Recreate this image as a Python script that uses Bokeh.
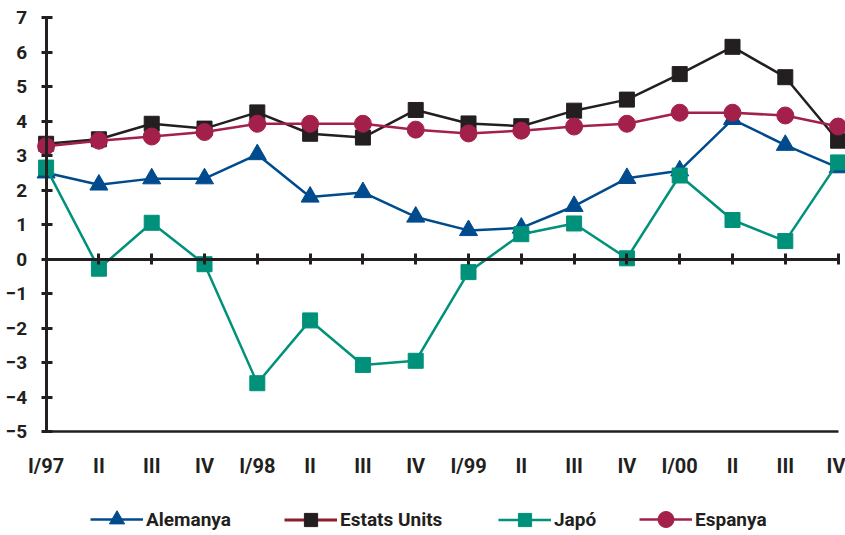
from bokeh.plotting import figure
from bokeh.models import Range1d, LinearAxis, FixedTicker, Legend, LegendItem
from bokeh.embed import file_html
from bokeh.resources import INLINE

# ---------------- data ----------------
quarters = ["I/97", "II", "III", "IV", "I/98", "II", "III", "IV",
            "I/99", "II", "III", "IV", "I/00", "II", "III", "IV"]
alemanya = [2.5, 2.15, 2.33, 2.33, 3.03, 1.8, 1.93, 1.22, 0.83, 0.9, 1.53, 2.34, 2.56, 4.05, 3.3, 2.65]
estats_units = [3.34, 3.47, 3.92, 3.78, 4.25, 3.63, 3.52, 4.32, 3.93, 3.85, 4.3, 4.62, 5.36, 6.15, 5.27, 3.43]
japo = [2.65, -0.28, 1.05, -0.15, -3.6, -1.78, -3.07, -2.95, -0.38, 0.72, 1.03, 0.02, 2.42, 1.13, 0.52, 2.8]
espanya = [3.27, 3.43, 3.55, 3.68, 3.92, 3.92, 3.92, 3.75, 3.64, 3.72, 3.84, 3.92, 4.24, 4.24, 4.16, 3.84]
y_ticks = list(range(-5, 8))

xs = list(range(len(quarters)))

DARK = "#231F20"
BLUE = "#004B8D"
TEAL = "#00917A"
RED = "#A3204B"
USLEG = "#8B1F2A"
FONT = "Roboto"

# frame covers the whole page so that axes labels and legend lie inside it
p = figure(width=845, height=535,
           x_range=Range1d(-0.864, 15.14), y_range=Range1d(-8.014, 7.493),
           output_backend="svg", toolbar_location=None,
           x_axis_location=None, y_axis_location=None,
           min_border_left=0, min_border_right=0,
           min_border_top=0, min_border_bottom=0)
p.outline_line_color = None
p.grid.visible = False
p.background_fill_color = "white"
p.border_fill_color = "white"

# y axis at x = 0 with labels
yax = LinearAxis(fixed_location=0, bounds=(-5, 7), ticker=FixedTicker(ticks=y_ticks),
                 axis_line_width=3, axis_line_color=DARK,
                 major_tick_in=6, major_tick_out=5, major_tick_line_width=3,
                 major_tick_line_color=DARK, minor_tick_line_color=None,
                 major_label_standoff=14, major_label_text_font=FONT,
                 major_label_text_font_style="bold", major_label_text_font_size="19px",
                 major_label_text_color=DARK)
p.add_layout(yax, "left")

# zero line with quarter ticks
xz = LinearAxis(fixed_location=0, bounds=(0, 15), ticker=FixedTicker(ticks=xs),
                axis_line_width=3, axis_line_color=DARK,
                major_tick_in=6, major_tick_out=5, major_tick_line_width=3,
                major_tick_line_color=DARK, minor_tick_line_color=None,
                major_label_text_color=None)
p.add_layout(xz, "below")

# bottom line (at -5) with quarter labels
xb = LinearAxis(fixed_location=-5, bounds=(0, 15), ticker=FixedTicker(ticks=xs),
                major_label_overrides={i: q for i, q in enumerate(quarters)},
                axis_line_width=2.5, axis_line_color=DARK,
                major_tick_in=0, major_tick_out=0, minor_tick_line_color=None,
                major_label_standoff=22, major_label_text_font=FONT,
                major_label_text_font_style="bold", major_label_text_font_size="20px",
                major_label_text_color=DARK)
p.add_layout(xb, "below")

# series
l_al = p.line(xs, alemanya, line_color=BLUE, line_width=2.5)
s_al = p.scatter(xs, alemanya, marker="triangle", size=18, fill_color=BLUE, line_color=BLUE)
l_us = p.line(xs, estats_units, line_color=DARK, line_width=2.5)
s_us = p.scatter(xs, estats_units, marker="square", size=15, fill_color=DARK, line_color=DARK)
l_jp = p.line(xs, japo, line_color=TEAL, line_width=2.5)
s_jp = p.scatter(xs, japo, marker="square", size=15, fill_color=TEAL, line_color=TEAL)
l_es = p.line(xs, espanya, line_color=RED, line_width=2.5)
s_es = p.scatter(xs, espanya, marker="circle", size=17, fill_color=RED, line_color=RED)

# legend proxy for the US entry (its legend line is dark red); a one-point line draws nothing
l_us_leg = p.line(xs[:1], estats_units[:1], line_color=USLEG, line_width=3)

def add_legend(label, renderers, x, h):
    leg = Legend(items=[LegendItem(label=label, renderers=renderers)],
                 location=(x, 16 - h / 2), orientation="horizontal",
                 glyph_width=53, glyph_height=h, padding=0, margin=0, spacing=0,
                 label_standoff=3, border_line_alpha=0, background_fill_alpha=0,
                 label_text_font=FONT, label_text_font_style="bold",
                 label_text_font_size="19px", label_text_color=DARK,
                 label_height=20)
    p.add_layout(leg, "center")

# legend x offsets are measured from the frame's left edge (page x = 0)
add_legend("Alemanya", [l_al, s_al], 90, 38)
add_legend("Estats Units", [l_us_leg, s_us], 284, 33)
add_legend("Japó", [l_jp, s_jp], 498, 33)
add_legend("Espanya", [l_es, s_es], 639, 40)

open("out.html", "w").write(file_html(p, INLINE))
